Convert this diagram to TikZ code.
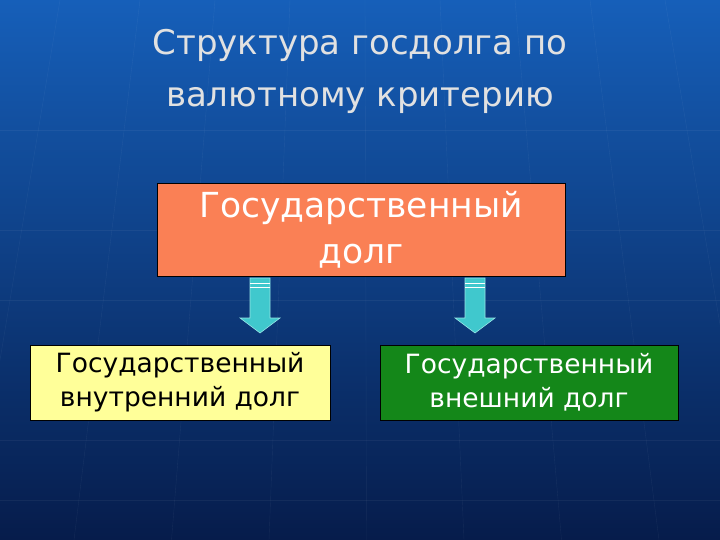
\documentclass[tikz,border=0pt]{standalone}
\usepackage{fontspec}
\setmainfont{DejaVu Sans}
\usetikzlibrary{calc}
\begin{document}
\begin{tikzpicture}[x=1pt,y=-1pt,
  box/.style={draw=black,line width=0.8pt,inner sep=0pt,align=center},
  darr/.style={fill={rgb,255:red,64;green,200;blue,205},draw={rgb,255:red,150;green,230;blue,230},line width=0.6pt}]
\useasboundingbox (0,0) rectangle (720,540);
\shade[top color={rgb,255:red,22;green,95;blue,185},bottom color={rgb,255:red,6;green,28;blue,75}] (0,0) rectangle (720,540);
\foreach \x in {60,140,215,290,365,440,515,590,665} {\pgfmathsetmacro{\xe}{\x+(\x-360)*0.3} \draw[white,opacity=0.06] (\x,0) -- (\xe,540);}
\foreach \y in {130,230,300,440,500} \draw[white,opacity=0.05] (0,\y) -- (720,\y);
\node[text={rgb,255:red,225;green,225;blue,225},font=\fontsize{34}{52}\selectfont,align=center] (title) at (360,71) {Структура госдолга по\\валютному критерию};
\node[box,fill={rgb,255:red,250;green,128;blue,85},text=white,minimum width=408pt,minimum height=93pt,font=\fontsize{34.5}{46}\selectfont] (gd) at (361,229.5) {Государственный\\долг};
\node[box,fill={rgb,255:red,255;green,255;blue,153},text=black,minimum width=300pt,minimum height=75pt,font=\fontsize{26.5}{34}\selectfont] (vn) at (180,382.5) {Государственный\\внутренний долг};
\node[box,fill={rgb,255:red,20;green,135;blue,25},text=white,minimum width=298pt,minimum height=75pt,font=\fontsize{26.5}{34}\selectfont] (ex) at (529,382.5) {Государственный\\внешний долг};
\foreach \cx/\nm in {260/a1,475/a2}{
  \coordinate (\nm) at (\cx,278);
  \draw[darr] ($(\nm)+(-10,0)$) -- ++(20,0) -- ++(0,40) -- ++(10,0) -- ++(-20,15) -- ++(-20,-15) -- ++(10,0) -- cycle;
  \draw[white,line width=1pt] ($(\nm)+(-10,5)$) -- ++(20,0);
  \draw[white,line width=1pt] ($(\nm)+(-10,9)$) -- ++(20,0);
}
\end{tikzpicture}
\end{document}
